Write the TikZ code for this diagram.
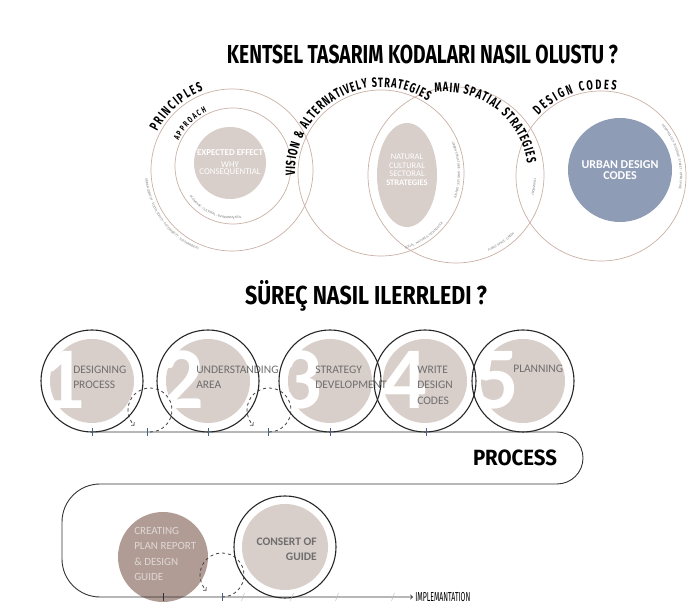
\documentclass[tikz,border=0pt]{standalone}
\usepackage{graphicx}
\usepackage{fontspec}
\setmainfont{Carlito}
\newfontfamily\handfont[FakeStretch=0.75]{Fira Sans}
\newfontfamily\arcfamily[FakeStretch=0.68]{Fira Sans}
\usetikzlibrary{decorations.text}

\definecolor{taupe}{RGB}{216,206,202}
\definecolor{taupedark}{RGB}{176,156,149}
\definecolor{slate}{RGB}{143,156,181}
\definecolor{ringline}{RGB}{201,176,166}
\definecolor{labelgray}{RGB}{110,110,110}
\definecolor{tinygray}{RGB}{120,120,120}
\definecolor{tickblue}{RGB}{70,95,130}

\newcommand{\arcfont}{\arcfamily\bfseries\fontsize{13.5}{13.5}\selectfont}
\newcommand{\smallarcfont}{\arcfamily\bfseries\fontsize{8.5}{8.5}\selectfont}
\newcommand{\tinyarcfont}{\fontsize{3.4}{3.4}\selectfont}

\begin{document}
\begin{tikzpicture}[
        x = 1pt, y = 1pt, % one unit per pixel
        > = to, % open arrow head
        semithick
    ]

    \tikzstyle{circline}=[draw = ringline, line width = 0.7pt]
    \tikzstyle{procring}=[draw = black!85, line width = 1.1pt]
    \tikzstyle{trackline}=[draw = black!80, line width = 0.9pt]
    \tikzstyle{dashloop}=[draw = black!75, dashed, line width = 0.8pt]
    \tikzstyle{tickmark}=[draw = tickblue, line width = 0.8pt]
    \tikzstyle{numeral}=[text = white, inner sep = 0, font = \fontsize{88}{88}\selectfont\bfseries]
    \tikzstyle{lbl}=[text = labelgray, inner sep = 0, align = left, font = \fontsize{11.5}{15.5}\selectfont]
    \tikzstyle{arctext}=[decorate, decoration = {text along path, text align = {fit to path}}]
    \tikzstyle{tinytext}=[decorate, decoration = {text along path, text align = center, text color = tinygray}]

    \useasboundingbox (0,0) rectangle (694,610);

    % titles
    \node[inner sep = 0] (t1) at (422.5,556) {\resizebox{391pt}{\height}{\fontsize{26}{26}\selectfont\handfont\bfseries KENTSEL TASARIM KODALARI NASIL OLUSTU ?}};
    \node[inner sep = 0] (t2) at (366,314) {\resizebox{242pt}{\height}{\fontsize{26}{26}\selectfont\handfont\bfseries SÜREÇ NASIL ILERRLEDI ?}};

    % top circles
    \coordinate (c1) at (232,440);
    \coordinate (a1) at (233,444);
    \coordinate (c2) at (381,437);
    \coordinate (c3) at (456,435);
    \coordinate (c4) at (601,434);

    \node[circle, fill = taupe, minimum size = 72pt, inner sep = 0, text = white, align = center,
        font = \fontsize{8.8}{7.5}\selectfont] (ee) at (230,447)
        {{\bfseries\fontsize{9}{9}\selectfont EXPECTED EFFECT}\\[4pt]WHY\\CONSEQUENTIAL};
    \fill[taupe] (407,435) ellipse[x radius = 30, y radius = 52];
    \node[text = white, align = center, inner sep = 0, font = \fontsize{8.5}{8.6}\selectfont] (nat) at (407,440)
        {NATURAL\\CULTURAL\\SECTORAL\\\textbf{STRATEGIES}};
    \node[circle, fill = slate, minimum size = 104pt, inner sep = 0, text = white, align = center,
        font = \bfseries\fontsize{12}{10.5}\selectfont] (udc) at (620,440) {URBAN DESIGN\\CODES};

    \draw[circline] (c1) circle[radius = 81];
    \draw[circline] (a1) circle[radius = 58];
    \draw[circline] (c2) circle[radius = 83];
    \draw[circline] (c3) circle[radius = 88];
    \draw[circline] (c4) circle[radius = 85];

    % labels along the circles
    \path[arctext, decoration = {text = {|\arcfont|PRINCIPLES}}]
        ([shift = {(153:84)}]c1) arc[start angle = 153, end angle = 110, radius = 84];
    \path[arctext, decoration = {text = {|\smallarcfont|APPROACH}}]
        ([shift = {(155:60)}]a1) arc[start angle = 155, end angle = 116, radius = 60];
    \path[arctext, decoration = {text = {|\arcfont|VISION {\&} ALTERNATIVELY STRATEGIES}}]
        ([shift = {(182:86)}]c2) arc[start angle = 182, end angle = 57, radius = 86];
    \path[arctext, decoration = {text = {|\arcfont|MAIN SPATIAL STRATEGIES}}]
        ([shift = {(97:83)}]445,435) arc[start angle = 97, end angle = 8, radius = 83];
    \path[arctext, decoration = {text = {|\arcfont|DESIGN CODES}}]
        ([shift = {(136:87)}]c4) arc[start angle = 136, end angle = 80, radius = 87];

    % tiny texts
    \path[tinytext, decoration = {text = {|\tinyarcfont|URBAN IDENTITY · SOCIAL EQUITY · ACCESSIBILITY · SUSTAINABILITY}}]
        ([shift = {(165:87)}]c1) arc[start angle = 165, end angle = 268, radius = 87];
    \path[tinytext, decoration = {text = {|\tinyarcfont|ECONOMIC · CULTURAL · ENVIRONMENTAL}}]
        ([shift = {(205:53)}]a1) arc[start angle = 205, end angle = 290, radius = 53];
    \path[tinytext, decoration = {text = {|\tinyarcfont|URBAN STRUCTURE · LAND USE · DENSITY}}]
        ([shift = {(35:77)}]c2) arc[start angle = 35, end angle = -31, radius = 77];
    \path[tinytext, decoration = {text = {|\tinyarcfont|SOCIAL · NATURE {\&} TECHNOLOGY}}]
        ([shift = {(-78:80)}]c2) arc[start angle = -78, end angle = -33, radius = 80];
    \path[tinytext, decoration = {text = {|\tinyarcfont|PUBLIC SPACE · GREEN}}]
        ([shift = {(-70:83)}]c3) arc[start angle = -70, end angle = -42, radius = 83];
    \path[tinytext, decoration = {text = {|\tinyarcfont|TRANSPORT}}]
        ([shift = {(2:78)}]c3) arc[start angle = 2, end angle = -20, radius = 78];
    \path[tinytext, decoration = {text = {|\tinyarcfont|MORPHOLOGY · BUILDING · STREET · OPEN SPACE}}]
        ([shift = {(52:79)}]c4) arc[start angle = 52, end angle = -22, radius = 79];

    % process circles
    \coordinate (p1) at (92,229);
    \coordinate (p2) at (208,229);
    \coordinate (p3) at (330,229);
    \coordinate (p4) at (425,229);
    \coordinate (p5) at (523,229);

    \foreach \p in {p1,p2,p3,p4,p5}
        \fill[taupe] (\p) circle[radius = 42];

    \node[numeral] (n1) at (63,230) {1};
    \node[numeral] (n2) at (182,230) {2};
    \node[numeral] (n3) at (300,230) {3};
    \node[numeral] (n4) at (405,230) {4};
    \node[numeral] (n5) at (497,230) {5};

    \node[lbl, anchor = west] (l1) at (73,232.5) {DESIGNING\\PROCESS};
    \node[lbl, anchor = west] (l2) at (196,232.5) {UNDERSTANDING\\AREA};
    \node[lbl, anchor = west] (l3) at (315,232.5) {STRATEGY\\DEVELOPMENT};
    \node[lbl, anchor = west] (l4) at (417,225) {WRITE\\DESIGN\\CODES};
    \node[lbl, anchor = west] (l5) at (513,241) {PLANNING};

    \draw[dashloop, ->] (150,178) arc[start angle = -90, end angle = 225, radius = 22];
    \draw[dashloop, ->] (269,178) arc[start angle = -90, end angle = 225, radius = 22];

    \foreach \p in {p1,p2,p3,p4,p5}
        \draw[procring] (\p) circle[radius = 51];

    % bottom circles
    \node[circle, fill = taupedark, minimum size = 90pt, inner sep = 0] (cr) at (163,53) {};
    \node[lbl, text = taupe!80!white, font = \fontsize{11}{15.5}\selectfont, anchor = west] (l6) at (134,56)
        {CREATING\\PLAN REPORT\\\& DESIGN\\GUIDE};
    \fill[taupe] (285,63) circle[radius = 43];
    \node[lbl, align = right, anchor = east, font = \bfseries\fontsize{11.5}{15}\selectfont] (l7) at (317,60.5)
        {CONSERT OF\\GUIDE};
    \draw[dashloop, ->] (222,13) arc[start angle = -90, end angle = 225, radius = 22];
    \draw[procring] (285,63) circle[radius = 51];

    % process track
    \draw[trackline, ->] (90,178) -- (557,178) arc[start angle = 90, end angle = -90, radius = 26]
        -- (100,126) arc[start angle = 90, end angle = 180, radius = 38]
        -- (62,51) arc[start angle = 180, end angle = 270, radius = 38] -- (413,13);

    \foreach \x in {92,147,208,268,330,426}
        \draw[tickmark] (\x,174) -- (\x,182);
    \draw[tickmark, draw = black!80] (163,9) -- (163,17);
    \draw[tickmark] (222,9) -- (222,17);
    \foreach \x in {243,292,337,393}
        \draw[draw = black!25, line width = 0.5pt] (\x-1.5,9) -- (\x+1.5,17);

    \node[inner sep = 0] (proc) at (515,152.5) {\resizebox{84pt}{\height}{\fontsize{22}{22}\selectfont\handfont\bfseries PROCESS}};
    \node[inner sep = 0, anchor = west] (impl) at (415,13) {\resizebox{55pt}{\height}{\fontsize{13}{13}\selectfont\handfont IMPLEMANTATION}};
\end{tikzpicture}
\end{document}
